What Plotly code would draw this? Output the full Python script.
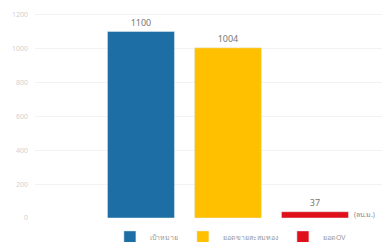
import plotly.graph_objects as go

categories = ["เป้าหมาย", "ยอดขายสะสมทอง", "ยอดOV"]
values = [1100, 1004, 37]
colors = ["#1C6EA4", "#FFC000", "#E0101A"]
tick_vals = [0, 200, 400, 600, 800, 1000, 1200]
unit_label = "(ลบ.ม.)"

fig = go.Figure()
for cat, val, col in zip(categories, values, colors):
    fig.add_trace(go.Bar(
        x=[cat], y=[val], name=cat, marker_color=col, width=0.77,
        text=[str(val)], textposition="outside", cliponaxis=False,
        textfont=dict(size=9, color="#777777"),
    ))

fig.add_annotation(x=2.43, y=20, xref="x", yref="y", text=unit_label,
                   xanchor="left", showarrow=False,
                   font=dict(size=7, color="#888888"))

fig.update_layout(
    width=382, height=234,
    margin=dict(l=27, r=5, t=2, b=24, autoexpand=False),
    paper_bgcolor="white", plot_bgcolor="white",
    barmode="overlay",
    font=dict(family="Noto Sans, DejaVu Sans, sans-serif"),
    showlegend=True,
    legend=dict(orientation="h", x=0.214, y=-0.091, xanchor="left", yanchor="middle",
                font=dict(size=7, color="#999999"), itemwidth=30,
                bgcolor="rgba(0,0,0,0)"),
    xaxis=dict(range=[-1.218, 2.805], showticklabels=False, showgrid=False,
               zeroline=False, showline=False, ticks="", automargin=False),
    yaxis=dict(range=[0, 1227], tickvals=tick_vals, showgrid=True,
               gridcolor="#F2F2F2", zeroline=False, showline=False,
               automargin=False, ticklabelstandoff=6,
               tickfont=dict(size=7, color="#D0D0D0")),
)

fig.write_html("out.html")
